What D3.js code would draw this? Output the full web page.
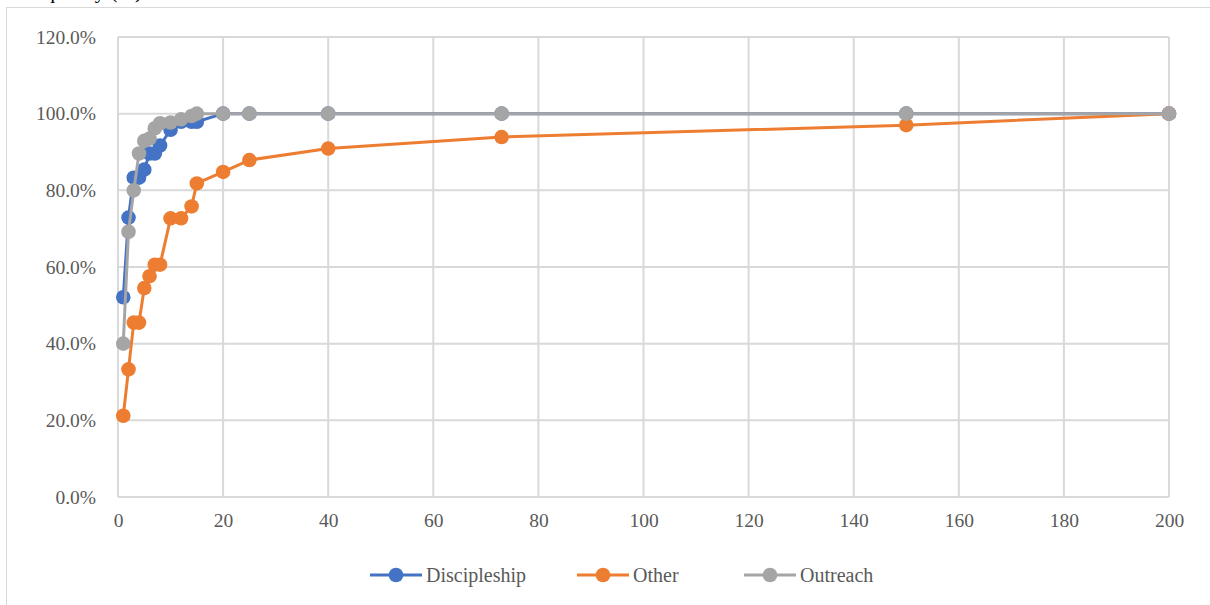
<!DOCTYPE html>
<html><head><meta charset="utf-8">
<script src="https://cdn.jsdelivr.net/npm/d3@7"></script>
<style>body{margin:0;background:#fff}svg{display:block}text{font-family:"Liberation Serif","Times New Roman",serif}</style>
</head><body>
<svg id="c" width="1210" height="605"></svg>
<script>
const seriesNames = ["Discipleship", "Other", "Outreach"];
const colors = ["#4472C4", "#ED7D31", "#A5A5A5"];
const discX = [1,2,3,4,5,6,7,8,10,12,14,15,20,25,40,73,150,200];
const discY = [52.1,72.9,83.3,83.3,85.4,89.6,89.6,91.7,95.8,97.9,97.9,97.9,100,100,100,100,100,100];
const otherX = [1,2,3,4,5,6,7,8,10,12,14,15,20,25,40,73,150,200];
const otherY = [21.2,33.3,45.5,45.5,54.5,57.6,60.6,60.6,72.7,72.7,75.8,81.8,84.8,87.9,90.9,93.9,97.0,100];
const outX = [1,2,3,4,5,6,7,8,10,12,14,15,20,25,40,73,150,200];
const outY = [40.0,69.2,80.0,89.6,92.9,93.5,96.2,97.5,97.7,98.5,99.4,100,100,100,100,100,100,100];
const xTicks = [0,20,40,60,80,100,120,140,160,180,200];
const yTicks = [0,20,40,60,80,100,120];
const titleText = "Frequency (%)";

const svg = d3.select("#c");
const x = d3.scaleLinear().domain([0,200]).range([118,1169]);
const y = d3.scaleLinear().domain([0,120]).range([497,37]);

svg.append("rect").attr("x",6.5).attr("y",7.5).attr("width",1220).attr("height",620)
  .attr("fill","none").attr("stroke","#d9d9d9").attr("stroke-width",1);
svg.append("text").attr("x",142).attr("y",-2).attr("text-anchor","end")
  .attr("font-size",21).attr("fill","#000").text(titleText);

const grid = svg.append("g");
grid.selectAll(".gy").data(yTicks).join("line")
  .attr("x1",x(0)).attr("x2",x(200)).attr("y1",d=>y(d)).attr("y2",d=>y(d))
  .attr("stroke","#d9d9d9").attr("stroke-width",2);
grid.selectAll(".gx").data(xTicks).join("line")
  .attr("x1",d=>x(d)).attr("x2",d=>x(d)).attr("y1",y(0)).attr("y2",y(120))
  .attr("stroke","#d9d9d9").attr("stroke-width",2);

const yAxis = d3.axisLeft(y).tickValues(yTicks).tickFormat(d=>d.toFixed(1)+"%").tickSize(0).tickPadding(22);
const gy = svg.append("g").attr("transform",`translate(${x(0)},0)`).call(yAxis);
gy.select(".domain").remove();
gy.selectAll("text").attr("font-size",19.5).attr("fill","#595959").attr("font-family","Liberation Serif");

const xAxis = d3.axisBottom(x).tickValues(xTicks).tickSize(0).tickPadding(16);
const gx = svg.append("g").attr("transform",`translate(0,${y(0)})`).call(xAxis);
gx.select(".domain").remove();
gx.selectAll("text").attr("font-size",19.5).attr("fill","#595959").attr("font-family","Liberation Serif");

const data = [
  discX.map((d,i)=>[d,discY[i]]),
  otherX.map((d,i)=>[d,otherY[i]]),
  outX.map((d,i)=>[d,outY[i]])
];
const line = d3.line().x(d=>x(d[0])).y(d=>y(d[1]));
data.forEach((pts,k)=>{
  const g = svg.append("g");
  g.append("path").attr("d",line(pts)).attr("fill","none").attr("stroke",colors[k])
    .attr("stroke-width",3).attr("stroke-linejoin","round");
  g.selectAll("circle").data(pts).join("circle")
    .attr("cx",d=>x(d[0])).attr("cy",d=>y(d[1])).attr("r",7.3).attr("fill",colors[k]);
});

const legX = [370, 577, 744];
const lg = svg.append("g");
seriesNames.forEach((n,k)=>{
  const lx = legX[k];
  lg.append("line").attr("x1",lx).attr("x2",lx+52).attr("y1",575).attr("y2",575)
    .attr("stroke",colors[k]).attr("stroke-width",3);
  lg.append("circle").attr("cx",lx+26).attr("cy",575).attr("r",7.3).attr("fill",colors[k]);
  lg.append("text").attr("x",lx+56).attr("y",582).attr("font-size",20).attr("fill","#595959").text(n);
});
</script>
</body></html>
